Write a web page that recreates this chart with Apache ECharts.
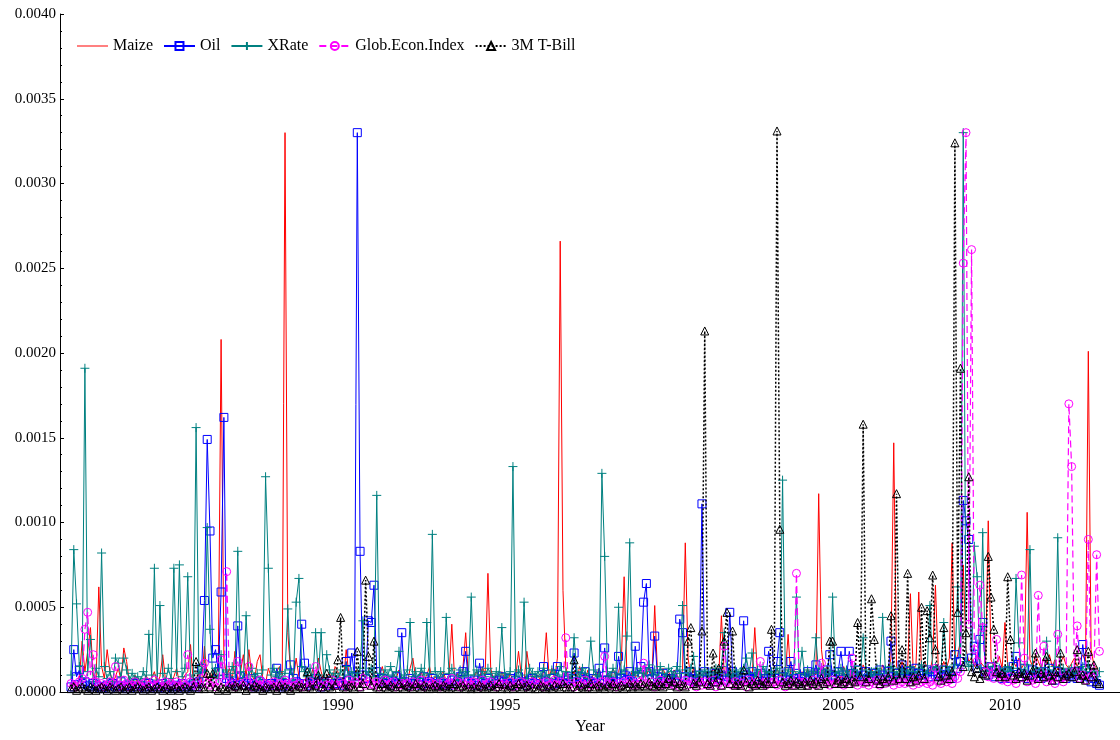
<!DOCTYPE html>
<html>
<head>
<meta charset="utf-8">
<script src="https://cdn.jsdelivr.net/npm/echarts@6/dist/echarts.min.js"></script>
<style>
 html, body { margin: 0; padding: 0; background: #fff; }
 #chart { width: 1120px; height: 740px; }
</style>
</head>
<body>
<div id="chart"></div>
<script>
// monthly observations, Jan 1982 .. Nov 2012, values in units of 1e-5
const startYear = 1982
const unit = 1e-5
const seriesNames = ['Maize', 'Oil', 'XRate', 'Glob.Econ.Index', '3M T-Bill']
const yearTicks = [1985, 1990, 1995, 2000, 2005, 2010]

const maize = [
 4, 6, 3, 8, 30, 12, 24, 38, 10, 6, 62, 15, // 1982
 8, 25, 12, 5, 9, 14, 7, 26, 18, 6, 4, 10, // 1983
 5, 7, 4, 10, 6, 8, 12, 5, 9, 22, 7, 4, // 1984
 6, 9, 14, 5, 7, 10, 12, 28, 5, 8, 11, 6, // 1985
 27, 8, 6, 12, 9, 15, 208, 20, 9, 14, 7, 24, // 1986
 6, 12, 22, 9, 25, 10, 7, 18, 22, 8, 5, 14, // 1987
 9, 6, 12, 15, 10, 330, 35, 12, 8, 20, 9, 6, // 1988
 7, 10, 5, 14, 8, 20, 12, 6, 9, 11, 7, 15, // 1989
 12, 8, 6, 25, 10, 5, 9, 14, 7, 12, 8, 6, // 1990
 8, 12, 6, 10, 15, 7, 9, 5, 11, 8, 13, 6, // 1991
 9, 5, 14, 20, 8, 6, 12, 7, 10, 15, 6, 9, // 1992
 7, 10, 12, 6, 9, 40, 8, 11, 6, 14, 35, 8, // 1993
 6, 9, 12, 8, 15, 10, 70, 14, 7, 10, 6, 12, // 1994
 8, 5, 11, 7, 9, 24, 10, 6, 24, 12, 7, 9, // 1995
 10, 6, 12, 35, 9, 14, 8, 20, 266, 60, 15, 8, // 1996
 9, 12, 7, 15, 10, 8, 13, 6, 11, 9, 14, 7, // 1997
 8, 11, 6, 14, 9, 12, 18, 68, 10, 7, 13, 9, // 1998
 10, 7, 12, 9, 15, 8, 51, 11, 7, 14, 9, 12, // 1999
 8, 13, 10, 7, 12, 88, 20, 9, 14, 8, 11, 7, // 2000
 12, 9, 7, 14, 10, 8, 45, 11, 9, 15, 8, 10, // 2001
 9, 12, 8, 11, 14, 7, 38, 10, 13, 8, 12, 9, // 2002
 11, 8, 14, 9, 12, 10, 34, 8, 13, 11, 7, 12, // 2003
 9, 14, 8, 12, 10, 117, 25, 11, 15, 9, 13, 10, // 2004
 12, 8, 15, 10, 13, 9, 14, 11, 8, 16, 12, 10, // 2005
 14, 10, 12, 9, 16, 13, 11, 20, 147, 15, 12, 18, // 2006
 11, 14, 58, 12, 16, 59, 13, 18, 15, 12, 20, 63, // 2007
 15, 12, 18, 14, 20, 88, 16, 22, 30, 75, 25, 18, // 2008
 20, 15, 22, 18, 16, 14, 101, 19, 15, 17, 21, 14, // 2009
 41, 16, 13, 18, 15, 20, 14, 17, 106, 19, 15, 22, // 2010
 18, 14, 20, 16, 22, 15, 19, 13, 17, 21, 16, 14, // 2011
 17, 20, 15, 19, 22, 18, 201, 25, 16, 14, 12 // 2012
]

const oil = [
 3, 25, 9, 13, 5, 6, 4, 3, 5, 4, 3, 2, // 1982
 3, 4, 2, 5, 3, 4, 6, 3, 2, 4, 3, 5, // 1983
 2, 4, 3, 2, 5, 3, 4, 2, 3, 5, 2, 4, // 1984
 3, 2, 4, 3, 5, 2, 3, 4, 5, 3, 6, 14, // 1985
 54, 149, 95, 20, 25, 12, 59, 162, 8, 6, 5, 4, // 1986
 39, 9, 6, 4, 5, 8, 3, 4, 6, 5, 3, 4, // 1987
 5, 4, 14, 6, 3, 5, 4, 16, 8, 6, 5, 40, // 1988
 17, 5, 4, 6, 8, 5, 3, 6, 5, 4, 7, 5, // 1989
 5, 6, 4, 18, 7, 23, 9, 330, 83, 10, 8, 42, // 1990
 41, 63, 12, 6, 8, 5, 7, 4, 6, 9, 5, 35, // 1991
 6, 4, 8, 5, 7, 6, 4, 9, 5, 6, 8, 5, // 1992
 4, 6, 5, 8, 4, 7, 5, 6, 9, 12, 24, 6, // 1993
 5, 7, 4, 17, 6, 5, 8, 4, 6, 5, 7, 9, // 1994
 6, 5, 8, 4, 7, 9, 5, 6, 4, 7, 8, 5, // 1995
 5, 7, 15, 6, 4, 8, 5, 15, 6, 5, 7, 9, // 1996
 8, 23, 6, 9, 5, 12, 7, 6, 8, 5, 14, 7, // 1997
 26, 7, 5, 9, 6, 21, 8, 10, 7, 12, 6, 27, // 1998
 9, 15, 53, 64, 12, 8, 33, 9, 6, 11, 8, 7, // 1999
 8, 6, 10, 43, 35, 9, 7, 12, 8, 6, 10, 111, // 2000
 12, 7, 9, 6, 11, 8, 10, 7, 9, 47, 12, 8, // 2001
 9, 7, 42, 10, 8, 12, 7, 9, 11, 6, 8, 24, // 2002
 10, 8, 18, 35, 9, 7, 12, 18, 8, 11, 6, 9, // 2003
 8, 12, 7, 10, 16, 9, 11, 8, 13, 22, 10, 9, // 2004
 12, 24, 10, 8, 24, 11, 9, 13, 7, 10, 12, 8, // 2005
 9, 11, 8, 13, 10, 7, 12, 30, 9, 11, 8, 16, // 2006
 10, 8, 12, 9, 14, 11, 8, 10, 13, 9, 12, 10, // 2007
 11, 9, 13, 10, 12, 8, 22, 14, 18, 113, 101, 90, // 2008
 20, 27, 14, 31, 41, 12, 10, 15, 9, 13, 11, 8, // 2009
 10, 12, 8, 15, 21, 9, 11, 14, 8, 10, 13, 9, // 2010
 11, 8, 12, 9, 14, 10, 7, 12, 9, 11, 8, 10, // 2011
 9, 12, 8, 10, 28, 14, 9, 6, 8, 5, 4 // 2012
]

const xrate = [
 10, 84, 52, 15, 8, 191, 12, 31, 6, 14, 9, 82, // 1982
 15, 8, 12, 6, 20, 17, 9, 20, 13, 7, 11, 8, // 1983
 9, 6, 12, 8, 34, 10, 73, 7, 51, 11, 6, 14, // 1984
 8, 73, 12, 75, 9, 14, 68, 10, 7, 156, 11, 15, // 1985
 12, 97, 37, 9, 14, 8, 22, 10, 13, 9, 15, 11, // 1986
 83, 12, 8, 45, 10, 14, 9, 11, 7, 13, 127, 73, // 1987
 10, 14, 9, 12, 8, 11, 49, 13, 7, 53, 67, 15, // 1988
 12, 9, 14, 8, 35, 10, 35, 7, 22, 13, 9, 11, // 1989
 8, 13, 10, 15, 9, 12, 7, 11, 14, 42, 10, 12, // 1990
 14, 9, 116, 11, 8, 13, 10, 15, 9, 12, 24, 8, // 1991
 10, 13, 41, 9, 12, 8, 14, 10, 41, 11, 93, 12, // 1992
 9, 12, 8, 44, 11, 14, 10, 7, 13, 9, 12, 10, // 1993
 56, 10, 13, 8, 12, 9, 14, 11, 7, 12, 10, 38, // 1994
 11, 8, 12, 133, 9, 13, 10, 53, 8, 14, 11, 9, // 1995
 12, 9, 14, 10, 8, 13, 11, 9, 15, 10, 12, 8, // 1996
 10, 32, 12, 9, 14, 11, 8, 30, 13, 10, 9, 129, // 1997
 80, 12, 9, 14, 10, 50, 11, 13, 33, 88, 10, 12, // 1998
 11, 14, 9, 12, 16, 10, 13, 8, 15, 11, 9, 14, // 1999
 12, 9, 15, 11, 51, 13, 10, 14, 21, 9, 12, 10, // 2000
 13, 10, 12, 9, 14, 11, 15, 35, 10, 12, 9, 13, // 2001
 10, 12, 14, 20, 11, 23, 9, 13, 10, 15, 12, 11, // 2002
 12, 9, 14, 11, 125, 10, 13, 8, 12, 56, 11, 24, // 2003
 10, 13, 9, 12, 32, 11, 14, 10, 13, 9, 56, 12, // 2004
 11, 14, 10, 13, 9, 12, 15, 11, 10, 32, 13, 9, // 2005
 12, 10, 14, 11, 44, 13, 9, 15, 12, 10, 14, 11, // 2006
 13, 11, 15, 12, 10, 14, 16, 12, 11, 51, 13, 15, // 2007
 14, 12, 41, 15, 13, 11, 16, 62, 14, 330, 18, 15, // 2008
 16, 86, 68, 14, 94, 12, 15, 13, 17, 11, 14, 12, // 2009
 13, 15, 12, 14, 67, 29, 11, 13, 16, 84, 12, 14, // 2010
 12, 14, 11, 30, 13, 10, 15, 91, 12, 14, 11, 13, // 2011
 14, 11, 13, 10, 15, 12, 16, 11, 13, 9, 12 // 2012
]

const globEcon = [
 5, 4, 3, 6, 8, 37, 47, 10, 22, 6, 4, 5, // 1982
 3, 4, 6, 5, 15, 3, 4, 7, 5, 3, 4, 6, // 1983
 4, 3, 5, 6, 4, 3, 7, 4, 5, 3, 6, 4, // 1984
 5, 4, 6, 3, 5, 4, 22, 6, 4, 5, 3, 8, // 1985
 17, 5, 4, 6, 3, 5, 19, 6, 71, 4, 5, 3, // 1986
 18, 5, 4, 6, 15, 3, 5, 4, 7, 3, 5, 4, // 1987
 4, 6, 3, 5, 4, 7, 5, 3, 6, 4, 5, 3, // 1988
 5, 3, 6, 4, 15, 5, 3, 6, 4, 5, 7, 4, // 1989
 4, 6, 5, 3, 7, 4, 6, 5, 3, 8, 4, 6, // 1990
 5, 4, 6, 3, 5, 7, 4, 5, 6, 3, 4, 5, // 1991
 4, 5, 3, 6, 4, 5, 7, 3, 4, 6, 5, 4, // 1992
 5, 3, 6, 4, 5, 8, 4, 6, 3, 5, 4, 6, // 1993
 4, 6, 5, 3, 7, 4, 5, 6, 4, 3, 5, 4, // 1994
 5, 4, 6, 3, 5, 4, 6, 5, 3, 4, 6, 5, // 1995
 4, 5, 3, 6, 4, 5, 7, 4, 6, 5, 32, 4, // 1996
 5, 3, 6, 4, 5, 7, 3, 4, 6, 5, 4, 6, // 1997
 21, 5, 4, 6, 3, 5, 4, 6, 5, 7, 4, 5, // 1998
 4, 6, 17, 5, 4, 6, 3, 5, 7, 4, 6, 5, // 1999
 5, 4, 6, 3, 5, 7, 4, 6, 5, 3, 6, 4, // 2000
 6, 4, 5, 7, 3, 5, 4, 27, 6, 5, 4, 6, // 2001
 4, 5, 6, 3, 7, 5, 4, 6, 18, 5, 4, 6, // 2002
 5, 6, 4, 7, 5, 3, 6, 5, 4, 70, 6, 5, // 2003
 6, 4, 5, 7, 4, 6, 17, 5, 6, 4, 7, 5, // 2004
 5, 7, 4, 6, 5, 20, 6, 4, 7, 5, 6, 4, // 2005
 6, 5, 7, 4, 6, 5, 8, 6, 4, 7, 5, 6, // 2006
 5, 7, 6, 4, 8, 5, 6, 7, 5, 6, 4, 14, // 2007
 6, 5, 8, 6, 7, 5, 9, 8, 12, 253, 330, 40, // 2008
 261, 25, 18, 63, 38, 12, 9, 15, 8, 31, 10, 7, // 2009
 8, 6, 9, 7, 5, 8, 69, 20, 6, 9, 7, 5, // 2010
 57, 8, 27, 6, 9, 7, 5, 34, 8, 6, 9, 170, // 2011
 133, 12, 39, 8, 10, 7, 90, 9, 11, 81, 24 // 2012
]

const tbill = [
 2, 3, 1, 2, 3, 2, 1, 3, 2, 1, 2, 3, // 1982
 2, 1, 3, 2, 1, 2, 3, 1, 2, 3, 1, 2, // 1983
 3, 2, 1, 2, 3, 1, 2, 3, 2, 1, 3, 2, // 1984
 1, 2, 3, 1, 2, 3, 2, 1, 3, 18, 2, 3, // 1985
 2, 11, 3, 11, 2, 1, 3, 2, 1, 3, 2, 4, // 1986
 3, 2, 4, 1, 3, 2, 4, 3, 2, 1, 3, 2, // 1987
 2, 3, 1, 4, 2, 3, 2, 1, 3, 2, 4, 3, // 1988
 2, 12, 3, 2, 4, 10, 3, 2, 11, 3, 2, 4, // 1989
 19, 44, 3, 2, 4, 3, 2, 24, 3, 5, 66, 21, // 1990
 4, 30, 3, 2, 5, 3, 2, 4, 3, 2, 5, 3, // 1991
 2, 4, 3, 2, 5, 3, 2, 4, 3, 2, 3, 4, // 1992
 3, 2, 4, 3, 2, 3, 5, 2, 3, 4, 2, 3, // 1993
 2, 3, 2, 4, 3, 2, 3, 4, 2, 3, 5, 2, // 1994
 3, 2, 4, 2, 3, 5, 2, 3, 4, 2, 3, 2, // 1995
 2, 4, 3, 2, 3, 2, 4, 3, 2, 5, 3, 2, // 1996
 3, 19, 2, 4, 3, 2, 3, 5, 2, 3, 4, 3, // 1997
 2, 4, 3, 5, 2, 3, 4, 2, 3, 5, 3, 4, // 1998
 3, 5, 4, 3, 6, 4, 3, 5, 4, 3, 5, 8, // 1999
 4, 6, 3, 5, 4, 3, 30, 38, 5, 4, 6, 36, // 2000
 213, 5, 4, 23, 6, 14, 4, 30, 47, 5, 36, 4, // 2001
 5, 4, 13, 6, 3, 5, 4, 7, 5, 4, 6, 5, // 2002
 37, 5, 331, 96, 6, 4, 5, 7, 4, 6, 5, 4, // 2003
 6, 4, 7, 5, 6, 4, 8, 5, 6, 30, 30, 5, // 2004
 7, 5, 6, 8, 5, 7, 6, 41, 9, 158, 6, 8, // 2005
 55, 31, 7, 5, 8, 6, 9, 45, 7, 117, 8, 25, // 2006
 8, 70, 6, 9, 7, 10, 50, 8, 48, 32, 69, 25, // 2007
 9, 7, 38, 10, 8, 12, 324, 47, 191, 15, 35, 127, // 2008
 12, 9, 14, 8, 11, 10, 80, 56, 37, 12, 9, 11, // 2009
 9, 68, 31, 10, 8, 12, 9, 11, 7, 10, 13, 23, // 2010
 8, 11, 9, 21, 10, 7, 12, 9, 23, 8, 10, 11, // 2011
 9, 12, 25, 8, 10, 7, 24, 9, 16, 6, 5 // 2012
]

const toPoints = arr => arr.map((v, i) => [startYear + i / 12, v * unit])

const plus = 'path://M0,5L10,5M5,0L5,10'
const styles = [
 { color: '#ff0000', symbol: 'none', type: 'solid', width: 1 },
 { color: '#0000ff', symbol: 'rect', size: 8, type: 'solid', width: 1 },
 { color: '#008080', symbol: plus, size: 9, type: 'solid', width: 1 },
 { color: '#ff00ff', symbol: 'circle', size: 8, type: [7, 4], width: 1.2 },
 { color: '#000000', symbol: 'triangle', size: 8, type: [2, 2], width: 1.5 },
]
const values = [maize, oil, xrate, globEcon, tbill]

const font = '"Liberation Serif", "Times New Roman", serif'
const chart = echarts.init(document.getElementById('chart'))

chart.setOption({
 animation: false,
 backgroundColor: '#fff',
 textStyle: { fontFamily: font, color: '#000' },
 legend: {
 left: 72,
 top: 33,
 itemWidth: 31,
 itemHeight: 10,
 itemGap: 10,
 textStyle: { fontFamily: font, fontSize: 16, color: '#000' },
 data: seriesNames.map((name, k) => (k === 0
 ? { name, icon: 'path://M0,4.5L31,4.5L31,5.5L0,5.5Z', itemStyle: { color: styles[0].color, borderWidth: 0 } }
 : { name })),
 },
 grid: { left: 60, right: 0, top: 14, bottom: 48 },
 xAxis: {
 type: 'value',
 min: 1981.67,
 max: 2013.45,
 name: 'Year',
 nameLocation: 'middle',
 nameGap: 24,
 nameTextStyle: { fontFamily: font, fontSize: 16, color: '#000' },
 axisLine: { lineStyle: { color: '#000', width: 1 } },
 axisTick: { show: false },
 splitLine: { show: false },
 axisLabel: {
 fontFamily: font, fontSize: 16, color: '#000', margin: 6,
 showMinLabel: false, showMaxLabel: false,
 formatter: v => (yearTicks.includes(Math.round(v)) && Math.abs(v - Math.round(v)) < 1e-6 ? String(Math.round(v)) : ''),
 },
 },
 yAxis: {
 type: 'value',
 min: 0,
 max: 0.004,
 interval: 0.0005,
 axisLine: { show: true, lineStyle: { color: '#000', width: 1 } },
 axisTick: { show: true, inside: true, length: 4, lineStyle: { color: '#000' } },
 minorTick: { show: true, splitNumber: 5, length: 2, lineStyle: { color: '#000' } },
 splitLine: { show: false },
 axisLabel: { fontFamily: font, fontSize: 15, color: '#000', margin: 4, formatter: v => v.toFixed(4) },
 },
 series: seriesNames.map((name, k) => ({
 name,
 type: 'line',
 data: toPoints(values[k]),
 symbol: styles[k].symbol,
 symbolSize: styles[k].size || 0,
 showSymbol: styles[k].symbol !== 'none',
 lineStyle: { color: styles[k].color, width: styles[k].width, type: styles[k].type },
 itemStyle: { color: 'rgba(255,255,255,0)', borderColor: styles[k].color, borderWidth: 1 },
 emphasis: { disabled: true },
 z: 2 + k,
 })),
})
</script>
</body>
</html>
